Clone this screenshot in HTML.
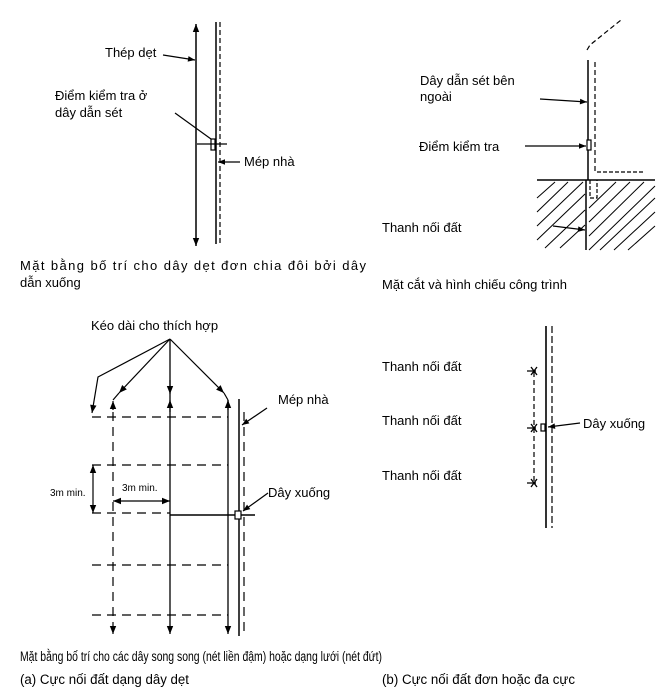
<!DOCTYPE html>
<html><head><meta charset="utf-8"><style>
html,body{margin:0;padding:0;background:#fff}
svg{display:block}
text{font-family:"Liberation Sans",sans-serif;font-size:13px;fill:#000}
.c{font-size:13.5px}
</style></head><body>
<svg width="661" height="688" viewBox="0 0 661 688" xmlns="http://www.w3.org/2000/svg">
<defs>
<marker id="a" viewBox="0 0 10 10" refX="10" refY="5" markerWidth="9" markerHeight="7" orient="auto-start-reverse" markerUnits="userSpaceOnUse"><path d="M0,1 L10,5 L0,9z" fill="#000"/></marker>
<marker id="b" viewBox="0 0 10 10" refX="10" refY="5" markerWidth="12" markerHeight="8" orient="auto-start-reverse" markerUnits="userSpaceOnUse"><path d="M0,1 L10,5 L0,9z" fill="#000"/></marker>
</defs>
<g stroke="#000" fill="none" stroke-width="1.2">
<!-- Panel 1 -->
<line x1="196" y1="24" x2="196" y2="246" stroke-width="1.5" marker-start="url(#b)" marker-end="url(#b)"/>
<line x1="216" y1="22" x2="216" y2="244" stroke-width="1.5"/>
<line x1="220" y1="22" x2="220" y2="244" stroke-dasharray="5,3"/>
<line x1="163" y1="55" x2="195" y2="60" marker-end="url(#a)"/>
<line x1="175" y1="113" x2="211" y2="139"/>
<rect x="211" y="139" width="4" height="11"/>
<line x1="197" y1="144" x2="227" y2="144"/>
<line x1="240" y1="162" x2="218" y2="162" marker-end="url(#a)"/>
<!-- Panel 2 -->
<polyline points="587,50 590,45 621,20" stroke-dasharray="5,3"/>
<line x1="588" y1="60" x2="588" y2="180" stroke-width="1.5"/>
<line x1="586" y1="180" x2="586" y2="250" stroke-width="1.5"/>
<line x1="595" y1="62" x2="595" y2="172" stroke-dasharray="5,3"/>
<line x1="597" y1="172" x2="645" y2="172" stroke-dasharray="4,2"/>
<line x1="537" y1="180" x2="655" y2="180" stroke-width="1.5"/>
<path d="M590,180 V198 H597 V180" stroke-dasharray="4,2"/>
<g stroke-width="1">
<line x1="537" y1="198" x2="555" y2="182"/>
<line x1="537" y1="212" x2="568" y2="182"/>
<line x1="537" y1="226" x2="583" y2="182"/>
<line x1="537" y1="240" x2="585" y2="194"/>
<line x1="545" y1="248" x2="585" y2="210"/>
<line x1="560" y1="248" x2="585" y2="225"/>
<line x1="589" y1="250" x2="655" y2="186"/>
<line x1="589" y1="236" x2="644" y2="182"/>
<line x1="589" y1="222" x2="630" y2="182"/>
<line x1="589" y1="208" x2="616" y2="182"/>
<line x1="600" y1="250" x2="655" y2="198"/>
<line x1="614" y1="250" x2="655" y2="212"/>
<line x1="628" y1="250" x2="655" y2="226"/>
</g>
<line x1="540" y1="99" x2="587" y2="102" marker-end="url(#a)"/>
<line x1="525" y1="146" x2="586" y2="146" marker-end="url(#a)"/>
<rect x="587" y="140" width="4" height="10" fill="#fff"/>
<line x1="553" y1="226" x2="585" y2="230" marker-end="url(#a)"/>
<!-- Panel 3 -->
<g stroke-dasharray="9,6">
<line x1="92" y1="417" x2="228" y2="417"/>
<line x1="92" y1="465" x2="228" y2="465"/>
<line x1="92" y1="513" x2="170" y2="513"/>
<line x1="92" y1="565" x2="228" y2="565"/>
<line x1="92" y1="615" x2="228" y2="615"/>
<line x1="113" y1="412" x2="113" y2="622"/>
<line x1="244" y1="412" x2="244" y2="634"/>
</g>
<line x1="113" y1="622" x2="113" y2="634" marker-end="url(#b)"/>
<line x1="113" y1="410" x2="113" y2="401" marker-end="url(#b)"/>
<line x1="170" y1="339" x2="170" y2="634" stroke-width="1.3" marker-end="url(#b)"/>
<line x1="170" y1="380" x2="170" y2="394" marker-end="url(#b)"/>
<line x1="170" y1="412" x2="170" y2="400" marker-end="url(#b)"/>
<line x1="228" y1="400" x2="228" y2="634" stroke-width="1.3" marker-end="url(#b)"/>
<line x1="228" y1="410" x2="228" y2="400" marker-end="url(#b)"/>
<line x1="239" y1="399" x2="239" y2="636" stroke-width="1.5"/>
<polyline points="170,339 98,377 92,413" marker-end="url(#b)"/>
<line x1="170" y1="339" x2="119" y2="393" marker-end="url(#b)"/>
<line x1="119" y1="393" x2="113" y2="400"/>
<line x1="170" y1="339" x2="224" y2="393" marker-end="url(#b)"/>
<line x1="224" y1="393" x2="228" y2="400"/>
<line x1="170" y1="515" x2="255" y2="515" stroke-width="1.5"/>
<rect x="235" y="511" width="6" height="8" fill="#fff"/>
<line x1="267" y1="408" x2="242" y2="425" marker-end="url(#a)"/>
<line x1="268" y1="493" x2="243" y2="511" marker-end="url(#a)"/>
<line x1="93" y1="465" x2="93" y2="513" marker-start="url(#b)" marker-end="url(#b)"/>
<line x1="113" y1="501" x2="170" y2="501" marker-start="url(#b)" marker-end="url(#b)"/>
<!-- Panel 4 -->
<line x1="546" y1="326" x2="546" y2="528" stroke-width="1.6"/>
<line x1="552" y1="326" x2="552" y2="528" stroke-dasharray="7,3"/>
<line x1="534" y1="372" x2="534" y2="484" stroke-dasharray="5,3"/>
<g stroke-width="1.3">
<path d="M527,371 H536 M531,367 L537,375 M537,367 L531,375"/>
<path d="M527,428 H536 M531,424 L537,432 M537,424 L531,432"/>
<path d="M527,483 H536 M531,479 L537,487 M537,479 L531,487"/>
</g>
<rect x="541" y="424" width="4" height="7"/>
<line x1="580" y1="423" x2="548" y2="427" marker-end="url(#a)"/>
</g>
<text x="105" y="57">Thép dẹt</text>
<text x="55" y="100">Điểm  kiểm  tra  ở</text>
<text x="55" y="117">dây dẫn sét</text>
<text x="244" y="166">Mép nhà</text>
<text x="20" y="270" textLength="346" lengthAdjust="spacing">Mặt bằng bố trí cho dây dẹt đơn chia đôi bởi dây</text>
<text x="20" y="287">dẫn xuống</text>
<text x="420" y="85">Dây  dẫn  sét  bên</text>
<text x="420" y="101">ngoài</text>
<text x="419" y="151">Điểm kiểm tra</text>
<text x="382" y="232">Thanh nối đất</text>
<text x="382" y="289">Mặt cắt và hình chiếu công trình</text>
<text x="91" y="330">Kéo dài cho thích hợp</text>
<text x="278" y="404">Mép nhà</text>
<text x="268" y="497">Dây xuống</text>
<text x="50" y="496" style="font-size:10px">3m  min.</text>
<text x="122" y="491" style="font-size:10px">3m  min.</text>
<text x="382" y="371">Thanh nối đất</text>
<text x="382" y="425">Thanh nối đất</text>
<text x="382" y="480">Thanh nối đất</text>
<text x="583" y="428">Dây xuống</text>
<text class="c" x="20" y="661" textLength="362" lengthAdjust="spacingAndGlyphs">Mặt bằng bố trí cho các dây song song (nét liền đậm) hoặc dạng lưới (nét đứt)</text>
<text class="c" x="20" y="684" textLength="169" lengthAdjust="spacingAndGlyphs">(a) Cực nối đất dạng dây dẹt</text>
<text class="c" x="382" y="684" textLength="193" lengthAdjust="spacingAndGlyphs">(b) Cực nối đất đơn hoặc đa cực</text>
</svg>
</body></html>
